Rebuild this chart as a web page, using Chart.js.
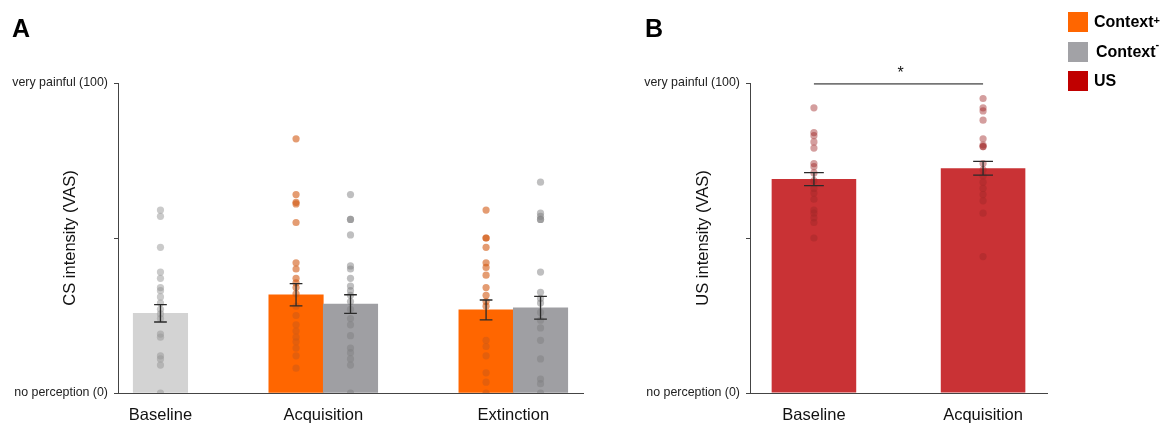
<!DOCTYPE html>
<html>
<head>
<meta charset="utf-8">
<script src="https://cdn.jsdelivr.net/npm/chart.js@4.4.1/dist/chart.umd.min.js"></script>
<style>
  html,body{margin:0;padding:0;background:#fff;}
  body{width:1164px;height:423px;position:relative;overflow:hidden;font-family:"Liberation Sans",Arial,sans-serif;}
  .panel{position:absolute;top:0;height:423px;}
  #wrapA{left:0;width:600px;}
  #wrapB{left:600px;width:564px;}
  .tag{position:absolute;top:16px;font-weight:bold;font-size:25px;line-height:25px;color:#000;}
  #legend{position:absolute;left:1068px;top:12px;}
  .leg{display:flex;align-items:center;height:20px;margin-bottom:9.5px;font-weight:bold;font-size:16px;color:#000;}
  .sw{width:20px;height:20px;margin-right:6px;}
  .leg sup{font-size:11px;line-height:0;position:relative;top:-2px;}
</style>
</head>
<body>
<div class="panel" id="wrapA"><canvas id="chartA" width="600" height="423"></canvas></div>
<div class="panel" id="wrapB"><canvas id="chartB" width="564" height="423"></canvas></div>
<div class="tag" style="left:12px">A</div>
<div class="tag" style="left:645px">B</div>
<div id="legend">
  <div class="leg"><div class="sw" style="background:#ff6600"></div>Context<sup>+</sup></div>
  <div class="leg"><div class="sw" style="background:#a2a2a6"></div><span style="margin-left:2px">Context<sup>-</sup></span></div>
  <div class="leg"><div class="sw" style="background:#c00000"></div>US</div>
</div>
<script>
const FONT = '"Liberation Sans", Arial, sans-serif';

// --- data (0..100 VAS) ---
const csGroups = ['Baseline', 'Acquisition', 'Extinction'];
const csBarGroup = [0, 1, 1, 2, 2];   // which group each bar belongs to
const csMeans = [25.7, 31.7, 28.7, 26.8, 27.5];
const csSem = [2.8, 3.6, 3.0, 3.2, 3.7];
const csBaseline = [59, 57, 47, 39, 37, 34, 33, 31, 29, 27, 25.5, 24, 19, 18, 12, 11, 9, 0];
const csAcqPlus = [82, 64, 61.5, 61, 55, 42, 40, 37, 35.5, 34, 32, 28, 25, 22, 20, 18, 16.5, 14.5, 12, 8];
const csAcqMinus = [64, 56, 56, 51, 41, 40, 37, 34.5, 33, 31.5, 29.5, 27, 24, 22, 18.5, 14.5, 13, 11, 9, 0];
const csExtPlus = [59, 50, 50, 47, 42, 40.5, 38, 34, 31.5, 29.5, 28, 17, 15, 12, 6.5, 3.5, 0];
const csExtMinus = [68, 58, 57, 56, 56, 39, 32.5, 30.5, 29, 26, 23.5, 21, 17, 11, 4.5, 3, 0];

const usGroups = ['Baseline', 'Acquisition'];
const usMeans = [69.0, 72.5];
const usSem = [2.1, 2.2];
const usBaseline = [92, 84, 83, 81, 79, 74, 73, 71, 68.5, 66, 64.5, 62.5, 59, 58, 56.5, 55, 50];
const usAcquisition = [95, 92, 91, 88, 82, 80, 79.5, 79.5, 74, 72, 70, 68, 66, 64, 62, 58, 44];

const yTickValues = [0, 50, 100];
const yTickLabels = ['no perception (0)', '', 'very painful (100)'];

// colours
const csBarColors = ['#d3d3d3', '#ff6600', '#9f9fa3', '#ff6600', '#9f9fa3'];
const csDotColors = ['rgba(150,150,150,0.5)', 'rgba(210,90,20,0.6)', 'rgba(128,128,130,0.5)', 'rgba(210,90,20,0.6)', 'rgba(128,128,130,0.5)'];
const usBarColor = '#c93235';
const usDotColor = 'rgba(160,40,40,0.45)';

// x layout for panel A, in bar-width units
const EDGE = 0.28, GAP = 1.49;
function layoutBars(groupOf){
  const xs = []; let x = EDGE + 0.5;
  groupOf.forEach((g, i) => { if(i > 0) x += (g === groupOf[i-1]) ? 1 : 1 + GAP; xs.push(x); });
  return xs;
}
const csX = layoutBars(csBarGroup);
const csCenters = csGroups.map((_, g) => { const v = csX.filter((_, i) => csBarGroup[i] === g); return v.reduce((a,b)=>a+b,0)/v.length; });
const csMax = csX[csX.length-1] + 0.5 + EDGE;

// error bars drawn from the bar elements and the y scale
const errorBars = {
  id: 'errorBars',
  afterDatasetsDraw(chart, args, opts){
    const meta = chart.getSortedVisibleDatasetMetas().find(m => m.type === 'bar');
    const y = chart.scales.y, ctx = chart.ctx;
    ctx.save(); ctx.strokeStyle = '#2a2a2a'; ctx.lineWidth = 1.3;
    meta.data.forEach((bar, i) => {
      const top = y.getPixelForValue(opts.means[i] + opts.sem[i]);
      const bot = y.getPixelForValue(opts.means[i] - opts.sem[i]);
      const half = bar.width * 0.117;
      ctx.beginPath();
      ctx.moveTo(bar.x, top); ctx.lineTo(bar.x, bot);
      ctx.moveTo(bar.x - half, top); ctx.lineTo(bar.x + half, top);
      ctx.moveTo(bar.x - half, bot); ctx.lineTo(bar.x + half, bot);
      ctx.stroke();
    });
    ctx.restore();
  }
};

// significance bracket (panel B)
const sigLine = {
  id: 'sigLine',
  afterDatasetsDraw(chart, args, opts){
    if(!opts || !opts.pairs) return;
    const x = chart.scales.x, y = chart.scales.y, ctx = chart.ctx;
    ctx.save();
    opts.pairs.forEach(p => {
      const x1 = x.getPixelForValue(p.from), x2 = x.getPixelForValue(p.to), yy = y.getPixelForValue(p.level);
      ctx.strokeStyle = '#111'; ctx.lineWidth = 1;
      ctx.beginPath(); ctx.moveTo(x1, yy); ctx.lineTo(x2, yy); ctx.stroke();
      ctx.fillStyle = '#111'; ctx.font = '16px ' + FONT; ctx.textAlign = 'center'; ctx.textBaseline = 'bottom';
      ctx.fillText(p.label, (x1 + x2) / 2 + 2, yy - 2);
    });
    ctx.restore();
  }
};

function yAxis(title, titlePad, width){
  return {
    min: 0, max: 100,
    afterBuildTicks: s => { s.ticks = yTickValues.map(v => ({value: v})); },
    afterFit: s => { s.width = width; },
    ticks: { callback: (v, i) => yTickLabels[i], autoSkip: false, color: '#222', font: {size: 12.4, family: FONT}, padding: 6 },
    grid: { drawOnChartArea: false, drawTicks: true, tickLength: 4, color: '#444' },
    border: { display: true, color: '#444', width: 1 },
    title: { display: true, text: title, color: '#111', font: {size: 16.5, family: FONT}, padding: {top: titlePad, bottom: 0} }
  };
}
function xAxis(min, max, centers, names){
  return {
    type: 'linear', min, max, offset: false,
    afterBuildTicks: s => { s.ticks = centers.map(v => ({value: v})); },
    afterFit: s => { s.height = 30; },
    ticks: { callback: (v, i) => names[i], autoSkip: false, maxRotation: 0, color: '#111', font: {size: 16.5, family: FONT}, padding: 13 },
    grid: { drawOnChartArea: false, drawTicks: false },
    border: { display: true, color: '#444', width: 1 }
  };
}
const baseOpts = { responsive: false, animation: false, events: [] };

// --- panel A ---
const csSeries = [csBaseline, csAcqPlus, csAcqMinus, csExtPlus, csExtMinus];
new Chart(document.getElementById('chartA'), {
  type: 'bar',
  data: {
    datasets: csSeries.map((vals, i) => ({
      type: 'scatter', order: 0,
      data: vals.map(v => ({x: csX[i], y: v})),
      pointRadius: 3.6, pointBorderWidth: 0, backgroundColor: csDotColors[i]
    })).concat([{
      type: 'bar', order: 10,
      data: csMeans.map((m, i) => ({x: csX[i], y: m})),
      backgroundColor: csBarColors, borderWidth: 0,
      barPercentage: 1, categoryPercentage: 1
    }])
  },
  options: Object.assign({}, baseOpts, {
    layout: { padding: {left: 0, right: 17, top: 83, bottom: 0} },
    plugins: { legend: {display: false}, tooltip: {enabled: false}, errorBars: {means: csMeans, sem: csSem} },
    scales: { x: xAxis(0, csMax, csCenters, csGroups), y: yAxis('CS intensity (VAS)', 61, 118) }
  }),
  plugins: [errorBars]
});

// --- panel B ---
const usX = [1, 2];
const usSeries = [usBaseline, usAcquisition];
new Chart(document.getElementById('chartB'), {
  type: 'bar',
  data: {
    datasets: usSeries.map((vals, i) => ({
      type: 'scatter', order: 0,
      data: vals.map(v => ({x: usX[i], y: v})),
      pointRadius: 3.6, pointBorderWidth: 0, backgroundColor: usDotColor
    })).concat([{
      type: 'bar', order: 10,
      data: usMeans.map((m, i) => ({x: usX[i], y: m})),
      backgroundColor: usBarColor, borderWidth: 0,
      barPercentage: 0.5, categoryPercentage: 1
    }])
  },
  options: Object.assign({}, baseOpts, {
    layout: { padding: {left: 0, right: 117, top: 83, bottom: 0} },
    plugins: {
      legend: {display: false}, tooltip: {enabled: false},
      errorBars: {means: usMeans, sem: usSem},
      sigLine: {pairs: [{from: 1, to: 2, level: 99.7, label: '*'}]}
    },
    scales: { x: xAxis(0.622, 2.378, usX, usGroups), y: yAxis('US intensity (VAS)', 93.5, 150) }
  }),
  plugins: [errorBars, sigLine]
});
</script>
</body>
</html>
